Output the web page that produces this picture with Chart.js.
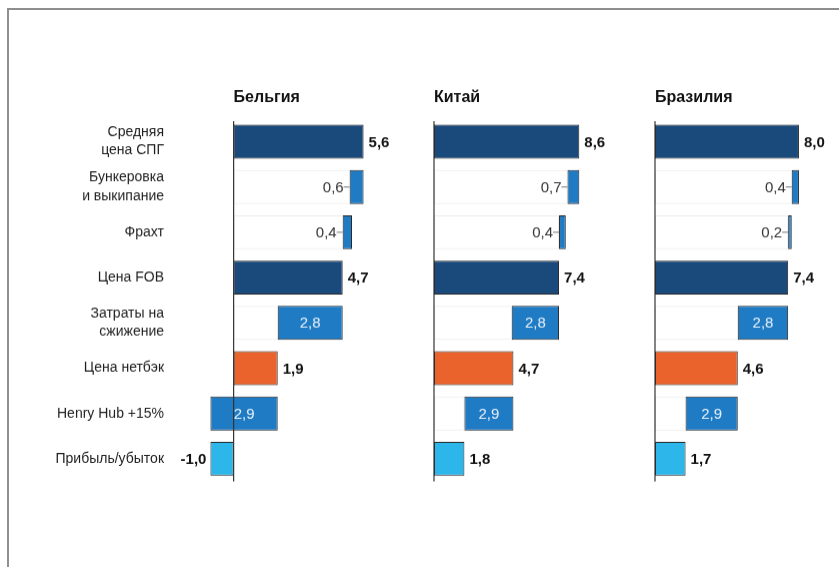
<!DOCTYPE html>
<html>
<head>
<meta charset="utf-8">
<script src="https://cdn.jsdelivr.net/npm/chart.js@4.4.1/dist/chart.umd.min.js"></script>
<style>
body{margin:0;background:#fff;width:839px;height:567px;overflow:hidden;position:relative;font-family:'Liberation Sans',Arial,sans-serif}
#frame{position:absolute;left:7px;top:8px;width:850px;height:600px;border-top:2px solid #8e8e8e;border-left:2px solid #8e8e8e}
.panel{position:absolute;top:80px;height:424.5px}
</style>
</head>
<body>
<div id="frame"></div>
<div class="panel" style="left:0;width:420px"><canvas id="c0"></canvas></div>
<div class="panel" style="left:420px;width:220px"><canvas id="c1"></canvas></div>
<div class="panel" style="left:640px;width:199px"><canvas id="c2"></canvas></div>
<script>
// данные по странам
const categories = [['Средняя','цена СПГ'], ['Бункеровка','и выкипание'], 'Фрахт', 'Цена FOB', ['Затраты на','сжижение'], 'Цена нетбэк', 'Henry Hub +15%', 'Прибыль/убыток']
const countries = ['Бельгия','Китай','Бразилия']
const avgPrice = [5.6, 8.6, 8.0]
const bunkering = [0.6, 0.7, 0.4]
const freight = [0.4, 0.4, 0.2]
const fobPrice = [4.7, 7.4, 7.4]
const liquefaction = [2.8, 2.8, 2.8]
const netback = [1.9, 4.7, 4.6]
const henryHub = [2.9, 2.9, 2.9]
const profit = [-1.0, 1.8, 1.7]

const navy = '#1a4a7c', blue = '#1f7bc4', orange = '#ea622c', cyan = '#2db6ea'
const rowColors = [navy, blue, blue, navy, blue, orange, blue, cyan]
const rowKinds = ['total','small','small','total','inside','total','inside','profit']

// настройки панелей (оси)
const panels = [
    {min:-3.0, max:7.6, showLabels:true, padLeft:0},
    {min:0, max:11.6, showLabels:false, padLeft:14},
    {min:0, max:9.67, showLabels:false, padLeft:15}
]

function fmt(v){ return v.toFixed(1).replace('.', ',') }

function barsFor(i){
    const avg = avgPrice[i], fob = fobPrice[i], net = netback[i]
    return [
        [0, avg],
        [avg - bunkering[i], avg],
        [fob, fob + freight[i]],
        [0, fob],
        [fob - liquefaction[i], fob],
        [0, net],
        [net - henryHub[i], net],
        [0, profit[i]]
    ]
}

function basesFor(i){
    const avg = avgPrice[i], fob = fobPrice[i], net = netback[i]
    const hhStart = net - henryHub[i]
    return [null, [0, avg - bunkering[i]], [0, fob], null, [0, fob - liquefaction[i]], null, hhStart > 0 ? [0, hhStart] : null, null]
}

const waterfallLabels = {
    id:'waterfallLabels',
    afterDatasetsDraw(chart, args, opts){
        const i = opts.panel
        const ctx = chart.ctx, xs = chart.scales.x, area = chart.chartArea
        const x0 = xs.getPixelForValue(0)
        ctx.save()
        // нулевая ось
        ctx.strokeStyle = '#333'
        ctx.lineWidth = 1.2
        ctx.beginPath()
        ctx.moveTo(x0, area.top + 2)
        ctx.lineTo(x0, area.bottom)
        ctx.stroke()
        // заголовок страны
        ctx.fillStyle = '#111'
        ctx.font = 'bold 16px "Liberation Sans", Arial'
        ctx.textAlign = 'left'
        ctx.textBaseline = 'middle'
        ctx.fillText(countries[i], x0, area.top - 21)

        const meta = chart.getDatasetMeta(0)
        const data = chart.data.datasets[0].data
        const vals = [avgPrice[i], bunkering[i], freight[i], fobPrice[i], liquefaction[i], netback[i], henryHub[i], profit[i]]
        meta.data.forEach((bar, j) => {
            const lo = xs.getPixelForValue(Math.min(data[j][0], data[j][1]))
            const hi = xs.getPixelForValue(Math.max(data[j][0], data[j][1]))
            const y = bar.y + 1
            const kind = rowKinds[j]
            const txt = fmt(vals[j])
            if (kind === 'total') {
                ctx.font = 'bold 15px "Liberation Sans", Arial'
                ctx.fillStyle = '#111'
                ctx.textAlign = 'left'
                ctx.fillText(txt, hi + 5, y)
            } else if (kind === 'small') {
                ctx.font = '15px "Liberation Sans", Arial'
                ctx.fillStyle = '#333'
                ctx.textAlign = 'right'
                ctx.fillText(txt, lo - 6, y)
                ctx.strokeStyle = '#777'
                ctx.lineWidth = 1
                ctx.beginPath()
                ctx.moveTo(lo - 6, bar.y)
                ctx.lineTo(lo, bar.y)
                ctx.stroke()
            } else if (kind === 'inside') {
                ctx.font = '15px "Liberation Sans", Arial'
                ctx.fillStyle = '#e8f2fb'
                ctx.textAlign = 'center'
                ctx.fillText(txt, (lo + hi) / 2, y)
            } else {
                ctx.font = 'bold 15px "Liberation Sans", Arial'
                ctx.fillStyle = '#111'
                if (vals[j] < 0) {
                    ctx.textAlign = 'right'
                    ctx.fillText(txt, lo - 4, y)
                } else {
                    ctx.textAlign = 'left'
                    ctx.fillText(txt, hi + 5, y)
                }
            }
        })
        ctx.restore()
    }
}

function makeChart(i){
    const p = panels[i]
    return new Chart(document.getElementById('c' + i), {
        type:'bar',
        data:{
            labels: categories,
            datasets:[{
                data: barsFor(i),
                backgroundColor: rowColors,
                borderColor: '#262626',
                borderWidth: 1,
                borderSkipped: false,
                grouped: false,
                barPercentage: 0.75,
                categoryPercentage: 1
            },{
                data: basesFor(i),
                backgroundColor: '#ffffff',
                borderColor: '#ececec',
                borderWidth: 1,
                borderSkipped: false,
                grouped: false,
                barPercentage: 0.75,
                categoryPercentage: 1
            }]
        },
        options:{
            indexAxis:'y',
            responsive:true,
            maintainAspectRatio:false,
            animation:false,
            layout:{padding:{top:38.9, bottom:24, left:p.padLeft, right:10}},
            plugins:{legend:{display:false}, tooltip:{enabled:false}, waterfallLabels:{panel:i}},
            scales:{
                x:{display:false, min:p.min, max:p.max},
                y:{
                    display:p.showLabels,
                    grid:{display:false, drawTicks:false},
                    border:{display:false},
                    ticks:{color:'#1e1e1e', padding:0, font:{family:'Liberation Sans', size:14, lineHeight:1.3}},
                    afterFit(scale){ if (p.showLabels) scale.width = 164 }
                }
            }
        },
        plugins:[waterfallLabels]
    })
}

countries.forEach((c, i) => makeChart(i))
</script>
</body>
</html>
